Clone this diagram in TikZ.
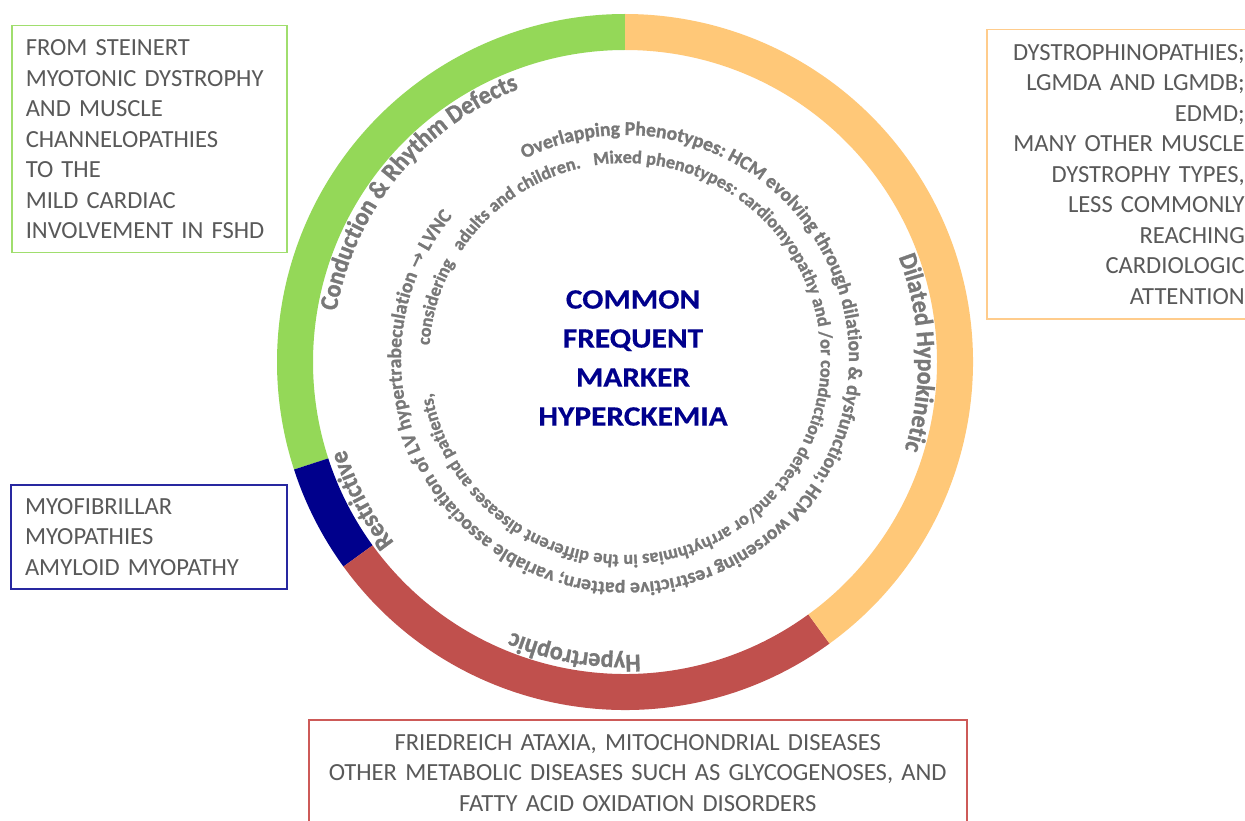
\documentclass[tikz,border=0pt]{standalone}
\usepackage{fontspec}
\setmainfont{Carlito}
\newfontfamily\arrowglyphfont{DejaVu Sans}
\newfontfamily\curvedfamily{Carlito}[FakeBold=1.2]
\newfontfamily\tallcurvedfamily{Carlito}[FakeBold=1.2, FakeStretch=0.94]
\newfontfamily\widefamily{Carlito}[FakeStretch=1.12, FakeBold=0.4]
\usetikzlibrary{decorations.text}

\definecolor{ringgreen}{RGB}{148,216,88}
\definecolor{ringorange}{RGB}{255,200,120}
\definecolor{ringred}{RGB}{192,80,77}
\definecolor{ringblue}{RGB}{0,0,140}
\definecolor{labelgrey}{RGB}{120,120,120}
\definecolor{boxgrey}{RGB}{89,89,89}
\definecolor{centreblue}{RGB}{0,0,140}
\definecolor{greenedge}{RGB}{160,222,110}
\definecolor{orangeedge}{RGB}{255,204,140}
\definecolor{blueedge}{RGB}{40,40,160}
\definecolor{rededge}{RGB}{205,90,88}

\newcommand\ringlabelfont{\tallcurvedfamily\bfseries\fontsize{25.5}{25.5}\selectfont}
\newcommand\outerturnfont{\curvedfamily\bfseries\fontsize{19.6}{19.6}\selectfont}
\newcommand\innerturnfont{\curvedfamily\bfseries\fontsize{18.2}{18.2}\selectfont}
\newcommand\infoboxfont{\fontsize{24.6}{30.5}\selectfont}
\newcommand\corefont{\widefamily\bfseries\fontsize{28}{39}\selectfont}
% one annular sector of the ring: colour, start angle, end angle
\newcommand\ringsector[3]{%
  \fill[#1] (#2:348) arc[start angle=#2, end angle=#3, radius=348]
    -- (#3:312) arc[start angle=#3, end angle=#2, radius=312] -- cycle;}

\tikzset{
  ringlabel/.style={decorate, decoration={text along path, text color=labelgrey,
      text={|\ringlabelfont|#1}}},
  turnlabel/.style={decorate, decoration={text along path, text color=labelgrey,
      text align=fit to path stretching spaces, text={#1}}},
  infobox/.style={draw, rectangle, line width=1.5pt, font=\infoboxfont, text=boxgrey,
      inner xsep=14pt, inner ysep=0pt, anchor=north west},
  core/.style={font=\corefont, text=centreblue, align=center},
}

\begin{document}
\begin{tikzpicture}[x=1pt, y=1pt]
  \clip (0,0) rectangle (1245,-821);
  \fill[white] (0,0) rectangle (1245,-821);

  % coloured ring
  \begin{scope}[shift={(625,-362)}]
    \ringsector{ringgreen}{90}{198}
    \ringsector{ringblue}{198}{216}
    \ringsector{ringred}{216}{306}
    \ringsector{ringorange}{306}{450}
    % category names along the inner edge of the ring
    \path[ringlabel={Conduction {\&} Rhythm Defects}]
      (170:293) arc[start angle=170, end angle=90, radius=293];
    \path[ringlabel={Dilated Hypokinetic}]
      (21:293) arc[start angle=21, end angle=-40, radius=293];
    \path[ringlabel={Hypertrophic}]
      (-87:293) arc[start angle=-87, end angle=-140, radius=293];
    \path[ringlabel={Restrictive}]
      (218:293) arc[start angle=218, end angle=180, radius=293];
  \end{scope}

  % two turns of explanatory text inside the ring
  \begin{scope}[shift={(625,-359)}]
    \path[turnlabel={|\outerturnfont|Overlapping Phenotypes: HCM evolving through dilation {\&} dysfunction; HCM worsening restrictive pattern; variable association of LV hypertrabeculation {\arrowglyphfont\bfseries →} LVNC}]
      (116.7:224) arc[start angle=116.7, end angle=-219, radius=224];
    \path[turnlabel={|\innerturnfont|considering {\ } adults and children. {\ } Mixed phenotypes: cardiomyopathy and /or conduction defect and/or arrhythmias in the different diseases and patients,}]
      (176:196) arc[start angle=176, end angle=-170, radius=196];
  \end{scope}

  \node[core] (marker) at (633,-358) {COMMON\\FREQUENT\\MARKER\\HYPERCKEMIA};

  % disease groups
  \node[infobox, draw=greenedge, text width=247pt, minimum height=227pt, align=left]
    (conduction) at (11,-25)
    {FROM STEINERT\\MYOTONIC DYSTROPHY\\AND MUSCLE\\CHANNELOPATHIES\\TO THE\\MILD CARDIAC\\INVOLVEMENT IN FSHD};
  \node[infobox, draw=orangeedge, text width=244pt, minimum height=289pt, align=right]
    (dilated) at (986,-29)
    {DYSTROPHINOPATHIES;\\LGMDA AND LGMDB;\\EDMD;\\MANY OTHER MUSCLE\\DYSTROPHY TYPES,\\LESS COMMONLY\\REACHING\\CARDIOLOGIC\\ATTENTION};
  \node[infobox, draw=blueedge, line width=2pt, text width=248pt, minimum height=104pt, align=left]
    (restrictive) at (10,-484)
    {MYOFIBRILLAR\\MYOPATHIES\\AMYLOID MYOPATHY};
  \node[infobox, draw=rededge, text width=630pt, minimum height=106pt, align=center]
    (hypertrophic) at (308,-719)
    {FRIEDREICH ATAXIA, MITOCHONDRIAL DISEASES\\OTHER METABOLIC DISEASES SUCH AS GLYCOGENOSES, AND\\FATTY ACID OXIDATION DISORDERS};
\end{tikzpicture}
\end{document}
